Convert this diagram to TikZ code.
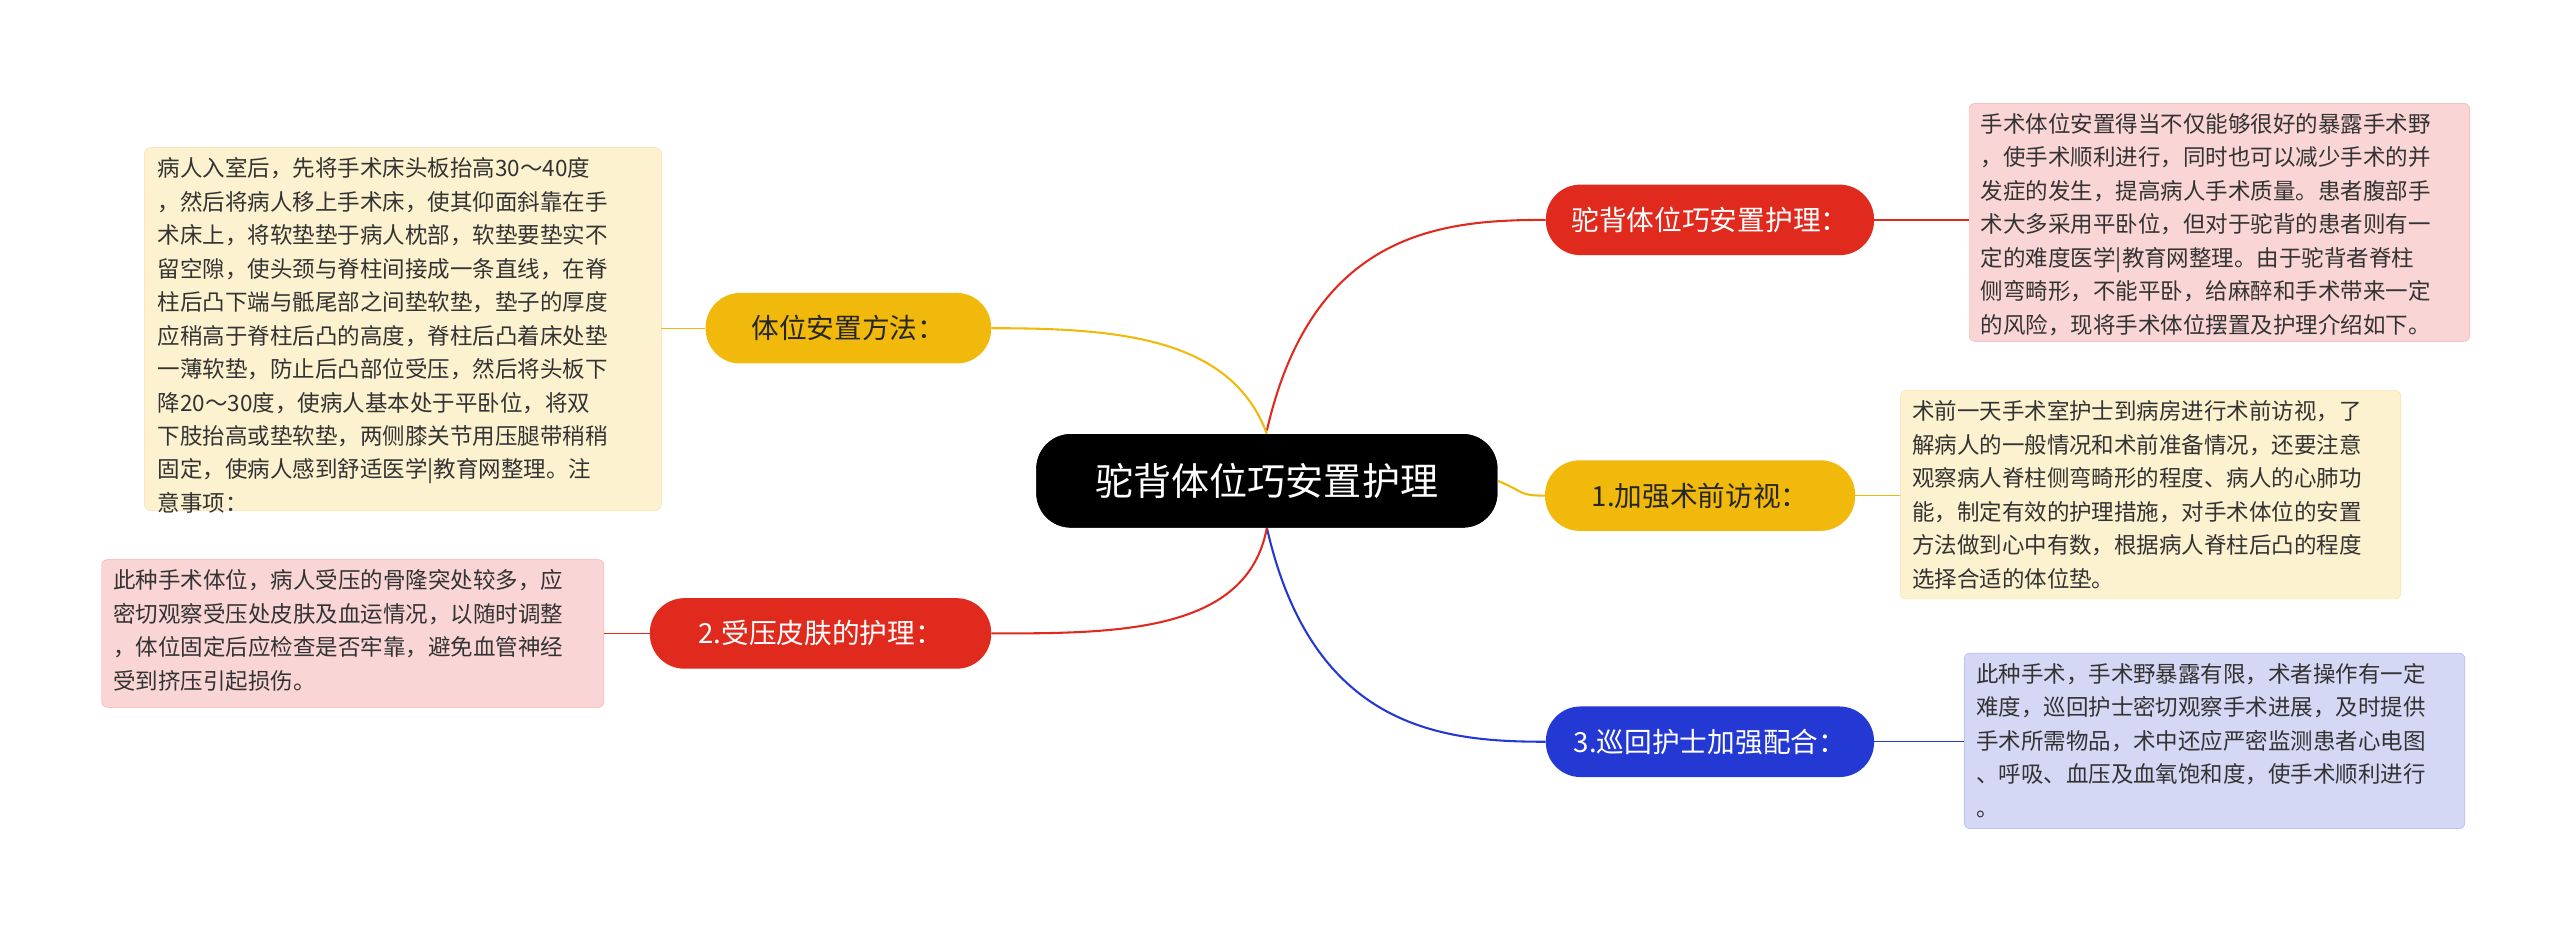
\documentclass[tikz,border=0pt]{standalone}
\usepackage{fontspec}
\setmainfont{Noto Sans CJK SC}
\begin{document}
\begin{tikzpicture}[x=0.05cm,y=-0.05cm,
 leaf/.style={rounded corners=5pt,align=left,anchor=north west,inner sep=0pt,font=\fontsize{19.5}{29}\selectfont,text=black!80},
 br/.style={rounded corners=30pt,minimum height=0.05cm*43,inner xsep=14pt,font=\fontsize{24}{28}\selectfont},
 con/.style={line width=1.8pt}]
\useasboundingbox (0,0) rectangle (1560,565);
\definecolor{cr}{HTML}{E02A1E}\definecolor{cy}{HTML}{F0B90B}\definecolor{cb}{HTML}{2438D4}
\definecolor{fr}{HTML}{FAD5D5}\definecolor{fy}{HTML}{FDF2CF}\definecolor{fb}{HTML}{D5D8F5}
% leaf boxes
\filldraw[fill=fr,draw=fr!80!red,rounded corners=5pt] (1200,63) rectangle (1505,208);
\filldraw[fill=fy,draw=fy!80!orange,rounded corners=5pt] (1158,238) rectangle (1463,365);
\filldraw[fill=fb,draw=fb!80!blue,rounded corners=5pt] (1197,398) rectangle (1502,505);
\filldraw[fill=fy,draw=fy!80!orange,rounded corners=5pt] (88,90) rectangle (403,311);
\filldraw[fill=fr,draw=fr!80!red,rounded corners=5pt] (62,341) rectangle (368,431);
\node[leaf] (l1) at (1207,69) {手术体位安置得当不仅能够很好的暴露手术野\\，使手术顺利进行，同时也可以减少手术的并\\发症的发生，提高病人手术质量。患者腹部手\\术大多采用平卧位，但对于驼背的患者则有一\\定的难度医学|教育网整理。由于驼背者脊柱\\侧弯畸形，不能平卧，给麻醉和手术带来一定\\的风险，现将手术体位摆置及护理介绍如下。};
\node[leaf] (l2) at (1165,244) {术前一天手术室护士到病房进行术前访视，了\\解病人的一般情况和术前准备情况，还要注意\\观察病人脊柱侧弯畸形的程度、病人的心肺功\\能，制定有效的护理措施，对手术体位的安置\\方法做到心中有数，根据病人脊柱后凸的程度\\选择合适的体位垫。};
\node[leaf] (l3) at (1204,404) {此种手术，手术野暴露有限，术者操作有一定\\难度，巡回护士密切观察手术进展，及时提供\\手术所需物品，术中还应严密监测患者心电图\\、呼吸、血压及血氧饱和度，使手术顺利进行\\。};
\node[leaf] (l4) at (96,96) {病人入室后，先将手术床头板抬高30～40度\\，然后将病人移上手术床，使其仰面斜靠在手\\术床上，将软垫垫于病人枕部，软垫要垫实不\\留空隙，使头颈与脊柱间接成一条直线，在脊\\柱后凸下端与骶尾部之间垫软垫，垫子的厚度\\应稍高于脊柱后凸的高度，脊柱后凸着床处垫\\一薄软垫，防止后凸部位受压，然后将头板下\\降20～30度，使病人基本处于平卧位，将双\\下肢抬高或垫软垫，两侧膝关节用压腿带稍稍\\固定，使病人感到舒适医学|教育网整理。注\\意事项：};
\node[leaf] (l5) at (69,347) {此种手术体位，病人受压的骨隆突处较多，应\\密切观察受压处皮肤及血运情况，以随时调整\\，体位固定后应检查是否牢靠，避免血管神经\\受到挤压引起损伤。};
% center and branches
\node[fill=black,text=white,rounded corners=30pt,minimum width=0.05cm*281,minimum height=0.05cm*57,font=\fontsize{33}{36}\selectfont] (c) at (772,293) {驼背体位巧安置护理};
\node[br,fill=cr,text=white,minimum width=0.05cm*200] (b1) at (1042,134) {驼背体位巧安置护理：};
\node[br,fill=cy,text=black!85,minimum width=0.05cm*189] (b2) at (1036,302) {1.加强术前访视：};
\node[br,fill=cb,text=white,minimum width=0.05cm*200] (b3) at (1042,452) {3.巡回护士加强配合：};
\node[br,fill=cy,text=black!85,minimum width=0.05cm*174] (b4) at (517,200) {体位安置方法：};
\node[br,fill=cr,text=white,minimum width=0.05cm*208] (b5) at (500,386) {2.受压皮肤的护理：};
% connectors
\begin{scope}[on background layer/.style={}]
\end{scope}
\draw[con,cr] (c.north)++(0,-2) coordinate (s1) (s1) .. controls (800,140) and (880,134) .. (b1.west);
\draw[con,cy] (c.east) .. controls (930,300) and (925,302) .. (b2.west);
\draw[con,cb] (c.south) .. controls (800,445) and (880,452) .. (b3.west);
\draw[con,cy] (c.north) .. controls (750,205) and (680,200) .. (b4.east);
\draw[con,cr] (c.south) .. controls (760,386) and (680,386) .. (b5.east);
\draw[con,cr,line width=1.2pt] (b1.east) -- (1200,134);
\draw[con,cy,line width=1.2pt] (b2.east) -- (1158,302);
\draw[con,cb,line width=1.2pt] (b3.east) -- (1197,452);
\draw[con,cy,line width=1.2pt] (b4.west) -- (403,200);
\draw[con,cr,line width=1.2pt] (b5.west) -- (368,386);
\node[fill=black,text=white,rounded corners=30pt,minimum width=0.05cm*281,minimum height=0.05cm*57,font=\fontsize{33}{36}\selectfont] at (772,293) {驼背体位巧安置护理};
\end{tikzpicture}
\end{document}
